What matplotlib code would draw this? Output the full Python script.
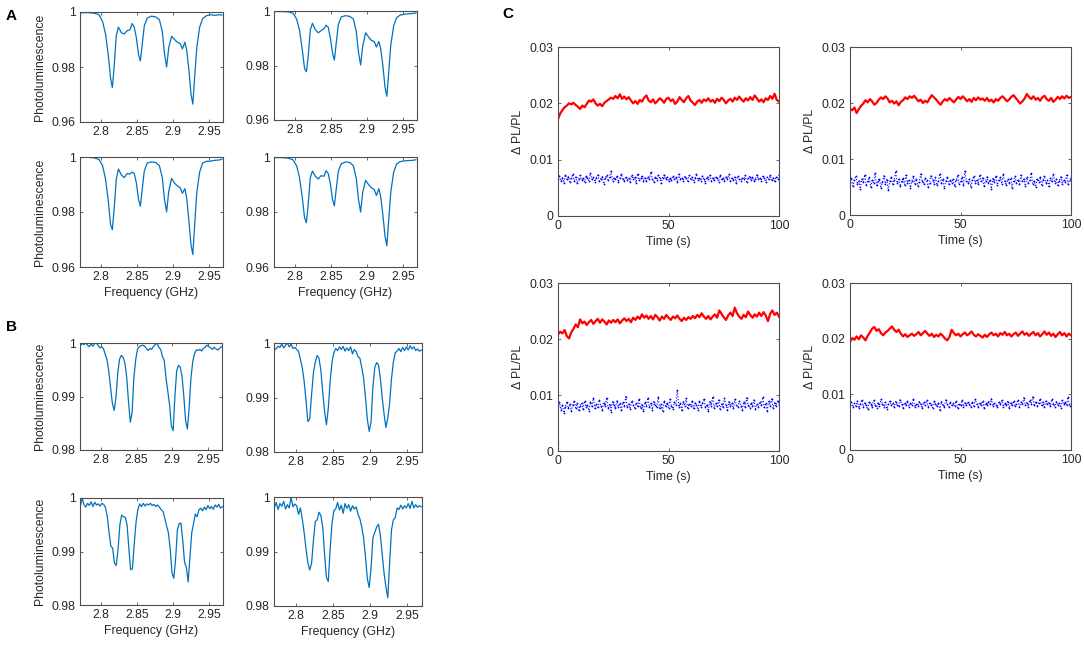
import numpy as np
import matplotlib
matplotlib.use('Agg')
import matplotlib.pyplot as plt

# Panel A spectra (frequency in GHz, normalised photoluminescence)
freq_a = [2.771, 2.780, 2.790, 2.797, 2.802, 2.806, 2.810, 2.813, 2.8155, 2.818,
          2.821, 2.824, 2.828, 2.832, 2.836, 2.840, 2.843, 2.846, 2.849, 2.852,
          2.8545, 2.857, 2.860, 2.864, 2.870, 2.876, 2.881, 2.885, 2.888, 2.891,
          2.894, 2.898, 2.902, 2.906, 2.910, 2.913, 2.9165, 2.919, 2.922, 2.925,
          2.9275, 2.930, 2.933, 2.937, 2.941, 2.946, 2.952, 2.958, 2.964, 2.968]

pl_a1 = [0.9997, 0.9998, 0.9996, 0.9990, 0.9965, 0.9920, 0.9840, 0.9760, 0.9725, 0.9800,
         0.9915, 0.9945, 0.9925, 0.9920, 0.9932, 0.9935, 0.9958, 0.9945, 0.9905, 0.9845,
         0.9822, 0.9880, 0.9950, 0.9978, 0.9985, 0.9982, 0.9972, 0.9930, 0.9850, 0.9800,
         0.9870, 0.9912, 0.9900, 0.9890, 0.9885, 0.9866, 0.9890, 0.9860, 0.9790, 0.9700,
         0.9665, 0.9760, 0.9870, 0.9945, 0.9975, 0.9986, 0.9990, 0.9988, 0.9990, 0.9989]
pl_a2 = [0.9998, 0.9998, 0.9997, 0.9992, 0.9970, 0.9930, 0.9855, 0.9790, 0.9777, 0.9830,
         0.9930, 0.9955, 0.9932, 0.9920, 0.9928, 0.9935, 0.9948, 0.9940, 0.9900, 0.9845,
         0.9820, 0.9880, 0.9950, 0.9978, 0.9983, 0.9980, 0.9970, 0.9925, 0.9850, 0.9802,
         0.9872, 0.9920, 0.9905, 0.9892, 0.9888, 0.9868, 0.9888, 0.9860, 0.9800, 0.9720,
         0.9687, 0.9770, 0.9875, 0.9945, 0.9975, 0.9985, 0.9988, 0.9990, 0.9991, 0.9993]
pl_a3 = [0.9998, 0.9999, 0.9997, 0.9991, 0.9968, 0.9920, 0.9838, 0.9755, 0.9736, 0.9810,
         0.9920, 0.9956, 0.9935, 0.9925, 0.9940, 0.9938, 0.9945, 0.9940, 0.9905, 0.9845,
         0.9821, 0.9880, 0.9950, 0.9978, 0.9982, 0.9980, 0.9968, 0.9925, 0.9848, 0.9800,
         0.9875, 0.9922, 0.9905, 0.9895, 0.9888, 0.9868, 0.9885, 0.9850, 0.9770, 0.9680,
         0.9645, 0.9750, 0.9870, 0.9945, 0.9978, 0.9984, 0.9985, 0.9988, 0.9989, 0.9992]
pl_a4 = [0.9998, 0.9998, 0.9996, 0.9990, 0.9968, 0.9925, 0.9850, 0.9780, 0.9761, 0.9825,
         0.9925, 0.9949, 0.9930, 0.9920, 0.9932, 0.9930, 0.9950, 0.9940, 0.9900, 0.9845,
         0.9822, 0.9880, 0.9948, 0.9975, 0.9982, 0.9980, 0.9968, 0.9922, 0.9848, 0.9800,
         0.9872, 0.9915, 0.9900, 0.9888, 0.9882, 0.9860, 0.9885, 0.9855, 0.9790, 0.9712,
         0.9677, 0.9765, 0.9872, 0.9945, 0.9974, 0.9983, 0.9986, 0.9987, 0.9988, 0.9990]

# Panel B spectra, sampled every 2.5 MHz from 2.771 GHz
freq_b = np.linspace(2.771, 2.9685, 80)

pl_b1 = [0.9995, 0.9999, 0.9997, 1.0000, 0.9996, 0.9993, 0.9998, 0.9994, 0.9999, 1.0000,
         0.9995, 0.9991, 0.9993, 0.9989, 0.9978, 0.9968, 0.9945, 0.9915, 0.9886, 0.9874,
         0.9900, 0.9945, 0.9970, 0.9977, 0.9973, 0.9962, 0.9935, 0.9890, 0.9852, 0.9870,
         0.9935, 0.9968, 0.9988, 0.9993, 0.9995, 0.9996, 0.9994, 0.9990, 0.9986, 0.9990,
         0.9988, 0.9994, 0.9997, 1.0000, 0.9992, 0.9988, 0.9975, 0.9968, 0.9935, 0.9910,
         0.9885, 0.9845, 0.9836, 0.9900, 0.9948, 0.9958, 0.9955, 0.9938, 0.9900, 0.9855,
         0.9839, 0.9880, 0.9935, 0.9965, 0.9980, 0.9987, 0.9986, 0.9988, 0.9985, 0.9990,
         0.9992, 0.9996, 0.9993, 0.9991, 0.9988, 0.9992, 0.9989, 0.9987, 0.9990, 0.9993]
pl_b2 = [0.9987, 0.9990, 0.9994, 0.9992, 0.9998, 0.9991, 0.9996, 1.0000, 0.9993, 0.9998,
         0.9990, 0.9992, 0.9988, 0.9985, 0.9970, 0.9955, 0.9930, 0.9895, 0.9856, 0.9860,
         0.9905, 0.9945, 0.9965, 0.9977, 0.9972, 0.9950, 0.9910, 0.9875, 0.9850, 0.9880,
         0.9930, 0.9965, 0.9982, 0.9990, 0.9986, 0.9993, 0.9988, 0.9994, 0.9985, 0.9991,
         0.9986, 0.9993, 0.9980, 0.9988, 0.9984, 0.9975, 0.9972, 0.9955, 0.9935, 0.9900,
         0.9860, 0.9838, 0.9855, 0.9920, 0.9955, 0.9964, 0.9960, 0.9935, 0.9900, 0.9870,
         0.9845, 0.9862, 0.9890, 0.9935, 0.9965, 0.9982, 0.9985, 0.9990, 0.9984, 0.9992,
         0.9986, 0.9993, 0.9987, 0.9995, 0.9989, 0.9993, 0.9986, 0.9989, 0.9985, 0.9987]
pl_b3 = [0.9985, 1.0000, 0.9988, 0.9983, 0.9990, 0.9986, 0.9993, 0.9984, 0.9992, 0.9987,
         0.9989, 0.9985, 0.9990, 0.9988, 0.9982, 0.9965, 0.9935, 0.9910, 0.9906, 0.9878,
         0.9874, 0.9905, 0.9950, 0.9968, 0.9965, 0.9964, 0.9950, 0.9905, 0.9866, 0.9868,
         0.9915, 0.9955, 0.9978, 0.9989, 0.9984, 0.9990, 0.9985, 0.9989, 0.9987, 0.9990,
         0.9986, 0.9988, 0.9984, 0.9987, 0.9983, 0.9978, 0.9975, 0.9962, 0.9948, 0.9935,
         0.9905, 0.9860, 0.9850, 0.9885, 0.9940, 0.9952, 0.9953, 0.9920, 0.9880, 0.9870,
         0.9843, 0.9890, 0.9935, 0.9952, 0.9970, 0.9965, 0.9978, 0.9981, 0.9976, 0.9983,
         0.9978, 0.9986, 0.9980, 0.9984, 0.9979, 0.9987, 0.9983, 0.9988, 0.9981, 0.9984]
pl_b4 = [0.9980, 0.9990, 0.9977, 0.9988, 0.9983, 0.9992, 0.9978, 0.9986, 0.9980, 1.0000,
         0.9982, 0.9987, 0.9984, 0.9968, 0.9980, 0.9960, 0.9935, 0.9905, 0.9880, 0.9866,
         0.9878, 0.9920, 0.9955, 0.9958, 0.9972, 0.9966, 0.9945, 0.9895, 0.9852, 0.9845,
         0.9905, 0.9952, 0.9975, 0.9978, 0.9990, 0.9976, 0.9985, 0.9970, 0.9988, 0.9979,
         0.9986, 0.9974, 0.9984, 0.9978, 0.9982, 0.9968, 0.9960, 0.9945, 0.9925, 0.9890,
         0.9850, 0.9834, 0.9870, 0.9925, 0.9935, 0.9945, 0.9950, 0.9930, 0.9895, 0.9860,
         0.9835, 0.9815, 0.9880, 0.9940, 0.9958, 0.9962, 0.9980, 0.9977, 0.9985, 0.9978,
         0.9984, 0.9980, 0.9988, 0.9979, 0.9992, 0.9980, 0.9986, 0.9981, 0.9984, 0.9982]

# Panel C time traces (delta PL / PL), red = one per second, blue = 1.5 per second
red_1 = [0.0172, 0.0182, 0.0188, 0.0193, 0.0196, 0.0200, 0.0198, 0.0201, 0.0197, 0.0194,
         0.0190, 0.0196, 0.0193, 0.0199, 0.0205, 0.0203, 0.0207, 0.0200, 0.0196, 0.0199,
         0.0195, 0.0201, 0.0204, 0.0207, 0.0210, 0.0208, 0.0213, 0.0209, 0.0216, 0.0208,
         0.0212, 0.0207, 0.0211, 0.0205, 0.0200, 0.0204, 0.0199, 0.0206, 0.0203, 0.0210,
         0.0214, 0.0205, 0.0202, 0.0207, 0.0200, 0.0204, 0.0209, 0.0206, 0.0201, 0.0208,
         0.0210, 0.0204, 0.0207, 0.0199, 0.0203, 0.0211, 0.0206, 0.0202, 0.0209, 0.0213,
         0.0205, 0.0201, 0.0197, 0.0203, 0.0206, 0.0201, 0.0207, 0.0204, 0.0209, 0.0203,
         0.0206, 0.0201, 0.0208, 0.0204, 0.0210, 0.0206, 0.0200, 0.0205, 0.0208, 0.0203,
         0.0210, 0.0206, 0.0212, 0.0207, 0.0203, 0.0209, 0.0205, 0.0211, 0.0206, 0.0214,
         0.0209, 0.0203, 0.0207, 0.0202, 0.0209, 0.0206, 0.0213, 0.0208, 0.0217, 0.0206,
         0.0203]
red_2 = [0.0190, 0.0187, 0.0192, 0.0182, 0.0189, 0.0195, 0.0199, 0.0205, 0.0201, 0.0207,
         0.0203, 0.0197, 0.0200, 0.0206, 0.0210, 0.0207, 0.0212, 0.0208, 0.0201, 0.0204,
         0.0199, 0.0203, 0.0196, 0.0202, 0.0205, 0.0210, 0.0207, 0.0212, 0.0209, 0.0213,
         0.0208, 0.0203, 0.0206, 0.0200, 0.0204, 0.0201, 0.0208, 0.0214, 0.0210, 0.0206,
         0.0201, 0.0197, 0.0203, 0.0207, 0.0204, 0.0209, 0.0205, 0.0201, 0.0206, 0.0211,
         0.0207, 0.0212, 0.0208, 0.0203, 0.0207, 0.0202, 0.0209, 0.0205, 0.0210, 0.0206,
         0.0208, 0.0204, 0.0209, 0.0203, 0.0206, 0.0201, 0.0207, 0.0204, 0.0209, 0.0212,
         0.0208, 0.0203, 0.0206, 0.0211, 0.0214, 0.0209, 0.0204, 0.0199, 0.0203, 0.0208,
         0.0216, 0.0211, 0.0207, 0.0212, 0.0206, 0.0209, 0.0204, 0.0210, 0.0213, 0.0207,
         0.0204, 0.0209, 0.0202, 0.0206, 0.0211, 0.0207, 0.0212, 0.0208, 0.0213, 0.0209,
         0.0211]
red_3 = [0.0208, 0.0213, 0.0210, 0.0216, 0.0205, 0.0201, 0.0212, 0.0218, 0.0226, 0.0221,
         0.0235, 0.0228, 0.0231, 0.0225, 0.0230, 0.0234, 0.0227, 0.0232, 0.0236, 0.0229,
         0.0235, 0.0231, 0.0226, 0.0233, 0.0229, 0.0234, 0.0230, 0.0235, 0.0228, 0.0233,
         0.0237, 0.0232, 0.0236, 0.0230, 0.0238, 0.0234, 0.0240, 0.0236, 0.0244, 0.0238,
         0.0242, 0.0236, 0.0241, 0.0235, 0.0243, 0.0239, 0.0233, 0.0240, 0.0236, 0.0243,
         0.0238, 0.0234, 0.0240, 0.0237, 0.0242, 0.0236, 0.0232, 0.0238, 0.0234, 0.0239,
         0.0236, 0.0241, 0.0237, 0.0243, 0.0239, 0.0246, 0.0240, 0.0236, 0.0241, 0.0235,
         0.0240, 0.0244, 0.0238, 0.0251, 0.0245, 0.0239, 0.0234, 0.0242, 0.0247, 0.0241,
         0.0256, 0.0246, 0.0240, 0.0236, 0.0243, 0.0239, 0.0249, 0.0243, 0.0238, 0.0244,
         0.0240, 0.0247, 0.0241, 0.0248, 0.0242, 0.0232, 0.0245, 0.0251, 0.0243, 0.0247,
         0.0240]
red_4 = [0.0194, 0.0201, 0.0198, 0.0204, 0.0199, 0.0206, 0.0202, 0.0197, 0.0205, 0.0211,
         0.0218, 0.0221, 0.0214, 0.0217, 0.0210, 0.0206, 0.0211, 0.0214, 0.0218, 0.0222,
         0.0216, 0.0212, 0.0216, 0.0209, 0.0204, 0.0208, 0.0203, 0.0206, 0.0209, 0.0205,
         0.0208, 0.0212, 0.0206, 0.0210, 0.0214, 0.0209, 0.0205, 0.0209, 0.0203, 0.0207,
         0.0204, 0.0209, 0.0205, 0.0200, 0.0197, 0.0203, 0.0216, 0.0210, 0.0206, 0.0209,
         0.0204, 0.0208, 0.0211, 0.0206, 0.0209, 0.0213, 0.0207, 0.0204, 0.0208, 0.0205,
         0.0202, 0.0207, 0.0203, 0.0208, 0.0211, 0.0206, 0.0209, 0.0204, 0.0210, 0.0207,
         0.0212, 0.0206, 0.0209, 0.0204, 0.0208, 0.0211, 0.0205, 0.0209, 0.0213, 0.0207,
         0.0210, 0.0205, 0.0209, 0.0212, 0.0206, 0.0210, 0.0204, 0.0208, 0.0213, 0.0207,
         0.0211, 0.0205, 0.0209, 0.0203, 0.0208, 0.0212, 0.0206, 0.0210, 0.0204, 0.0209,
         0.0206]

blue_1 = [0.0066, 0.0071, 0.0062, 0.0068, 0.0059, 0.0073, 0.0065, 0.0070, 0.0061, 0.0067,
          0.0074, 0.0063, 0.0069, 0.0058, 0.0066, 0.0072, 0.0064, 0.0068, 0.0060, 0.0071,
          0.0067, 0.0063, 0.0076, 0.0065, 0.0069, 0.0061, 0.0068, 0.0073, 0.0062, 0.0066,
          0.0070, 0.0057, 0.0067, 0.0072, 0.0064, 0.0069, 0.0079, 0.0063, 0.0068, 0.0065,
          0.0071, 0.0060, 0.0067, 0.0074, 0.0066, 0.0062, 0.0070, 0.0064, 0.0068, 0.0061,
          0.0072, 0.0066, 0.0069, 0.0059, 0.0075, 0.0064, 0.0067, 0.0071, 0.0063, 0.0068,
          0.0062, 0.0070, 0.0065, 0.0078, 0.0066, 0.0061, 0.0069, 0.0064, 0.0072, 0.0067,
          0.0058, 0.0068, 0.0073, 0.0065, 0.0070, 0.0062, 0.0067, 0.0064, 0.0071, 0.0066,
          0.0069, 0.0060, 0.0074, 0.0065, 0.0068, 0.0063, 0.0070, 0.0067, 0.0062, 0.0072,
          0.0066, 0.0069, 0.0061, 0.0067, 0.0075, 0.0064, 0.0068, 0.0063, 0.0071, 0.0065,
          0.0059, 0.0069, 0.0066, 0.0073, 0.0062, 0.0068, 0.0064, 0.0070, 0.0067, 0.0061,
          0.0072, 0.0065, 0.0068, 0.0063, 0.0070, 0.0066, 0.0074, 0.0062, 0.0067, 0.0064,
          0.0069, 0.0058, 0.0071, 0.0066, 0.0063, 0.0068, 0.0065, 0.0072, 0.0061, 0.0067,
          0.0070, 0.0064, 0.0069, 0.0062, 0.0066, 0.0073, 0.0065, 0.0068, 0.0063, 0.0071,
          0.0067, 0.0061, 0.0069, 0.0065, 0.0072, 0.0064, 0.0068, 0.0062, 0.0070, 0.0066,
          0.0073]
blue_2 = [0.0058, 0.0066, 0.0052, 0.0063, 0.0070, 0.0055, 0.0061, 0.0047, 0.0064, 0.0059,
          0.0072, 0.0054, 0.0060, 0.0067, 0.0050, 0.0062, 0.0057, 0.0075, 0.0053, 0.0061,
          0.0065, 0.0048, 0.0059, 0.0070, 0.0056, 0.0063, 0.0044, 0.0060, 0.0068, 0.0055,
          0.0062, 0.0078, 0.0057, 0.0064, 0.0051, 0.0060, 0.0066, 0.0054, 0.0071, 0.0058,
          0.0063, 0.0049, 0.0061, 0.0069, 0.0056, 0.0064, 0.0052, 0.0059, 0.0073, 0.0060,
          0.0055, 0.0066, 0.0062, 0.0050, 0.0058, 0.0070, 0.0063, 0.0056, 0.0067, 0.0053,
          0.0061, 0.0074, 0.0057, 0.0064, 0.0048, 0.0060, 0.0068, 0.0055, 0.0062, 0.0058,
          0.0065, 0.0051, 0.0063, 0.0071, 0.0056, 0.0060, 0.0067, 0.0053, 0.0079, 0.0061,
          0.0057, 0.0064, 0.0050, 0.0062, 0.0069, 0.0058, 0.0063, 0.0055, 0.0072, 0.0060,
          0.0066, 0.0052, 0.0061, 0.0068, 0.0057, 0.0063, 0.0047, 0.0065, 0.0059, 0.0070,
          0.0054, 0.0062, 0.0067, 0.0056, 0.0073, 0.0060, 0.0053, 0.0064, 0.0058, 0.0066,
          0.0049, 0.0061, 0.0069, 0.0057, 0.0063, 0.0055, 0.0071, 0.0060, 0.0064, 0.0052,
          0.0067, 0.0058, 0.0062, 0.0075, 0.0056, 0.0061, 0.0050, 0.0065, 0.0059, 0.0068,
          0.0054, 0.0063, 0.0070, 0.0057, 0.0062, 0.0051, 0.0066, 0.0060, 0.0073, 0.0058,
          0.0064, 0.0053, 0.0061, 0.0068, 0.0056, 0.0063, 0.0059, 0.0071, 0.0055, 0.0062,
          0.0067]
blue_3 = [0.0080, 0.0087, 0.0074, 0.0083, 0.0068, 0.0079, 0.0088, 0.0076, 0.0084, 0.0071,
          0.0082, 0.0090, 0.0077, 0.0085, 0.0073, 0.0081, 0.0086, 0.0075, 0.0089, 0.0079,
          0.0083, 0.0072, 0.0087, 0.0080, 0.0094, 0.0076, 0.0084, 0.0078, 0.0091, 0.0081,
          0.0074, 0.0086, 0.0080, 0.0095, 0.0077, 0.0083, 0.0070, 0.0088, 0.0082, 0.0076,
          0.0090, 0.0079, 0.0085, 0.0073, 0.0087, 0.0081, 0.0097, 0.0078, 0.0084, 0.0075,
          0.0089, 0.0082, 0.0077, 0.0086, 0.0080, 0.0093, 0.0076, 0.0083, 0.0071, 0.0087,
          0.0081, 0.0095, 0.0078, 0.0085, 0.0074, 0.0088, 0.0082, 0.0079, 0.0096, 0.0076,
          0.0084, 0.0072, 0.0089, 0.0080, 0.0086, 0.0077, 0.0092, 0.0081, 0.0075, 0.0087,
          0.0083, 0.0109, 0.0079, 0.0085, 0.0073, 0.0088, 0.0081, 0.0094, 0.0077, 0.0084,
          0.0080, 0.0090, 0.0076, 0.0086, 0.0082, 0.0074, 0.0089, 0.0079, 0.0085, 0.0093,
          0.0078, 0.0083, 0.0071, 0.0088, 0.0081, 0.0097, 0.0077, 0.0085, 0.0080, 0.0091,
          0.0075, 0.0084, 0.0079, 0.0094, 0.0082, 0.0073, 0.0088, 0.0080, 0.0086, 0.0076,
          0.0092, 0.0083, 0.0078, 0.0089, 0.0081, 0.0074, 0.0087, 0.0079, 0.0095, 0.0082,
          0.0077, 0.0086, 0.0080, 0.0091, 0.0075, 0.0084, 0.0079, 0.0088, 0.0082, 0.0096,
          0.0078, 0.0085, 0.0072, 0.0089, 0.0081, 0.0093, 0.0077, 0.0086, 0.0080, 0.0090,
          0.0083]
blue_4 = [0.0081, 0.0086, 0.0077, 0.0084, 0.0079, 0.0088, 0.0075, 0.0083, 0.0090, 0.0078,
          0.0085, 0.0080, 0.0073, 0.0087, 0.0082, 0.0077, 0.0089, 0.0081, 0.0076, 0.0085,
          0.0079, 0.0091, 0.0083, 0.0078, 0.0086, 0.0074, 0.0082, 0.0088, 0.0080, 0.0084,
          0.0077, 0.0087, 0.0081, 0.0079, 0.0090, 0.0083, 0.0076, 0.0085, 0.0080, 0.0088,
          0.0078, 0.0084, 0.0081, 0.0092, 0.0077, 0.0083, 0.0079, 0.0087, 0.0082, 0.0075,
          0.0086, 0.0080, 0.0089, 0.0078, 0.0084, 0.0081, 0.0076, 0.0088, 0.0083, 0.0079,
          0.0085, 0.0072, 0.0087, 0.0081, 0.0078, 0.0090, 0.0082, 0.0077, 0.0086, 0.0080,
          0.0084, 0.0079, 0.0088, 0.0076, 0.0083, 0.0081, 0.0089, 0.0078, 0.0085, 0.0080,
          0.0087, 0.0082, 0.0077, 0.0086, 0.0079, 0.0091, 0.0083, 0.0078, 0.0085, 0.0081,
          0.0088, 0.0076, 0.0084, 0.0080, 0.0087, 0.0082, 0.0092, 0.0079, 0.0085, 0.0081,
          0.0077, 0.0086, 0.0083, 0.0089, 0.0078, 0.0084, 0.0080, 0.0087, 0.0075, 0.0085,
          0.0081, 0.0088, 0.0079, 0.0083, 0.0090, 0.0077, 0.0086, 0.0082, 0.0094, 0.0080,
          0.0085, 0.0078, 0.0089, 0.0083, 0.0096, 0.0081, 0.0087, 0.0079, 0.0084, 0.0092,
          0.0080, 0.0086, 0.0077, 0.0088, 0.0082, 0.0085, 0.0079, 0.0091, 0.0083, 0.0078,
          0.0087, 0.0081, 0.0084, 0.0076, 0.0089, 0.0082, 0.0086, 0.0080, 0.0095, 0.0079,
          0.0084]

freq_ticks = [2.8, 2.85, 2.9, 2.95]
freq_ticklabels = ['2.8', '2.85', '2.9', '2.95']
time_ticks = [0, 50, 100]
dpl_ticks = [0, 0.01, 0.02, 0.03]
dpl_ticklabels = ['0', '0.01', '0.02', '0.03']

plt.rcParams['font.family'] = ['Liberation Sans', 'DejaVu Sans']
FS = 8.8
TXT = '#262626'
W, H = 1084, 653

fig = plt.figure(figsize=(10.84, 6.53), dpi=100)


# Makes axes from pixel box (left, top, right, bottom)
def make_ax(x0, y0, x1, y1):
    ax = fig.add_axes([x0 / W, 1 - y1 / H, (x1 - x0) / W, (y1 - y0) / H])
    for s in ax.spines.values():
        s.set_color('#4d4d4d')
        s.set_linewidth(0.8)
    ax.tick_params(direction='in', length=2.5, width=0.6, top=True, right=True,
                   labelsize=FS, colors='#4d4d4d', labelcolor=TXT, pad=3)
    return ax


# Panel A and B spectra
spec_boxes = [(80, 12, 223, 122), (274, 11, 417, 120), (80, 157, 223, 267), (274, 157, 417, 267),
              (80, 343, 222, 450), (274, 343, 422, 452), (80, 498, 223, 605), (274, 497, 422, 606)]
spec_x = [freq_a] * 4 + [freq_b] * 4
spec_y = [pl_a1, pl_a2, pl_a3, pl_a4, pl_b1, pl_b2, pl_b3, pl_b4]

for i, box in enumerate(spec_boxes):
    ax = make_ax(*box)
    ax.plot(spec_x[i], spec_y[i], color='#0072BD', lw=0.9)
    ax.set_xlim(2.7705, 2.9695)
    ax.set_xticks(freq_ticks)
    ax.set_xticklabels(freq_ticklabels)
    if i < 4:
        ax.set_ylim(0.96, 1.0)
        ax.set_yticks([0.96, 0.98, 1.0])
        ax.set_yticklabels(['0.96', '0.98', '1'])
    else:
        ax.set_ylim(0.98, 1.0)
        ax.set_yticks([0.98, 0.99, 1.0])
        ax.set_yticklabels(['0.98', '0.99', '1'])
    if i % 2 == 0:
        ax.set_ylabel('Photoluminescence', fontsize=FS, color=TXT, labelpad=4)
    if i in (2, 3, 6, 7):
        ax.set_xlabel('Frequency (GHz)', fontsize=FS, color=TXT, labelpad=3)

# Panel C time traces
time_boxes = [(558, 47, 779, 216), (850, 47, 1071, 215), (558, 283, 779, 451), (850, 283, 1071, 450)]
reds = [red_1, red_2, red_3, red_4]
blues = [blue_1, blue_2, blue_3, blue_4]

for i, box in enumerate(time_boxes):
    ax = make_ax(*box)
    t_r = np.linspace(0, 100, len(reds[i]))
    t_b = np.linspace(0, 100, len(blues[i]))
    ax.plot(t_b, blues[i], ls=':', lw=0.8, marker='.', color='b', ms=2.6, mew=0)
    ax.plot(t_r, reds[i], color='r', lw=1.6)
    ax.set_xlim(0, 100)
    ax.set_ylim(0, 0.03)
    ax.set_xticks(time_ticks)
    ax.set_yticks(dpl_ticks)
    ax.set_yticklabels(dpl_ticklabels)
    ax.set_xlabel('Time (s)', fontsize=FS, color=TXT, labelpad=3)
    ax.set_ylabel('\u0394 PL/PL', fontsize=FS, color=TXT, labelpad=4)

# Panel letters
fig.text(6 / W, 1 - 20 / H, 'A', fontsize=11, fontweight='bold')
fig.text(6 / W, 1 - 331 / H, 'B', fontsize=11, fontweight='bold')
fig.text(502 / W, 1 - 18 / H, 'C', fontsize=11, fontweight='bold')

fig.savefig('out.png', dpi=100)
